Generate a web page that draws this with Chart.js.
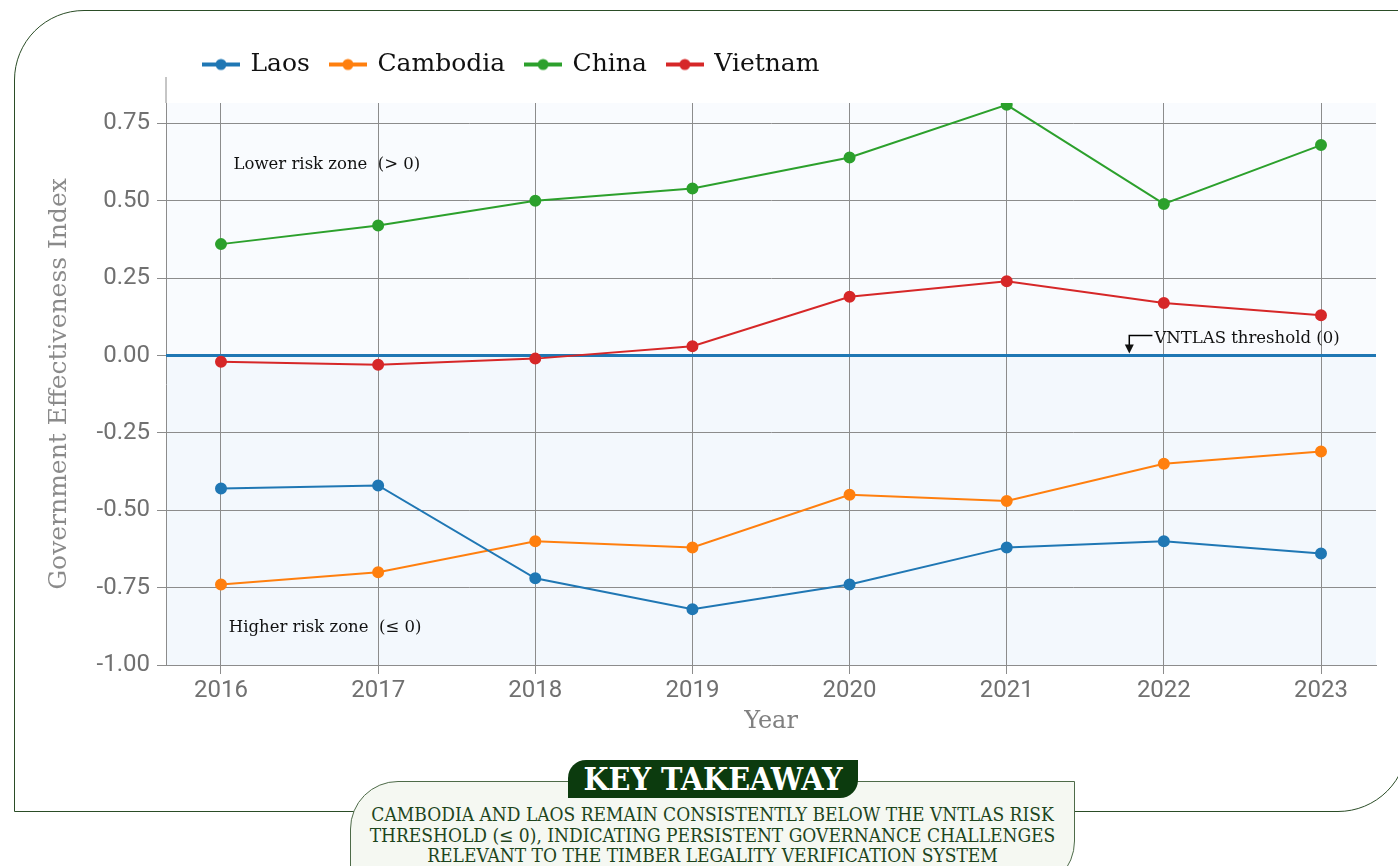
<!DOCTYPE html>
<html>
<head>
<meta charset="utf-8">
<script src="https://cdn.jsdelivr.net/npm/chart.js@4.4.1/dist/chart.umd.min.js"></script>
<style>
  body { margin: 0; width: 1398px; height: 866px; overflow: hidden; background: #fff; position: relative; }
  .card { position: absolute; left: 14px; top: 10px; width: 1394px; height: 802px; box-sizing: border-box;
          border: 1.3px solid #2b4d27; border-radius: 70px 0 70px 0; }
  #wrap { position: absolute; left: 0; top: 0; width: 1398px; height: 760px; }
  .box { position: absolute; left: 350px; top: 781px; width: 725px; height: 110px; box-sizing: border-box;
         background: #f5f8f2; border: 1.3px solid #4e6b49; border-radius: 48px 0 50px 0; }
  .badge { position: absolute; left: 568px; top: 760px; width: 290px; height: 38px; background: #0c3b0e;
           color: #fff; border-radius: 18px 0 18px 0; text-align: center; line-height: 40px;
           font: bold 32px "DejaVu Serif Condensed", "DejaVu Serif", serif; }
  .note { position: absolute; left: 340px; top: 804px; width: 745px; text-align: center;
          font: 19px/20.5px "DejaVu Serif Condensed", "DejaVu Serif", serif; color: #1d451c; }
</style>
</head>
<body>
<div class="card"></div>
<div id="wrap"><canvas id="chart"></canvas></div>
<div class="box"></div>
<div class="badge">KEY TAKEAWAY</div>
<div class="note">CAMBODIA AND LAOS REMAIN CONSISTENTLY BELOW THE VNTLAS RISK<br>THRESHOLD (≤ 0), INDICATING PERSISTENT GOVERNANCE CHALLENGES<br>RELEVANT TO THE TIMBER LEGALITY VERIFICATION SYSTEM</div>
<script>
const years = [2016, 2017, 2018, 2019, 2020, 2021, 2022, 2023];
const laos = [-0.43, -0.42, -0.72, -0.82, -0.74, -0.62, -0.60, -0.64];
const cambodia = [-0.74, -0.70, -0.60, -0.62, -0.45, -0.47, -0.35, -0.31];
const china = [0.36, 0.42, 0.50, 0.54, 0.64, 0.81, 0.49, 0.68];
const vietnam = [-0.02, -0.03, -0.01, 0.03, 0.19, 0.24, 0.17, 0.13];
const yTicks = [-1, -0.75, -0.5, -0.25, 0, 0.25, 0.5, 0.75];

const serif = '"DejaVu Serif", serif';
const gridGray = "#8c8c8c";

// line-with-dot swatch for the legend
function legendIcon(color) {
  const c = document.createElement("canvas");
  c.width = 38;
  c.height = 14;
  const g = c.getContext("2d");
  g.strokeStyle = color;
  g.lineWidth = 4;
  g.beginPath();
  g.moveTo(0, 7);
  g.lineTo(38, 7);
  g.stroke();
  g.fillStyle = color;
  g.beginPath();
  g.arc(19, 7, 5.5, 0, Math.PI * 2);
  g.fill();
  return c;
}

function series(label, values, color) {
  return {
    label: label,
    data: years.map((y, i) => ({ x: y, y: values[i] })),
    borderColor: color,
    backgroundColor: color,
    borderWidth: 2,
    pointRadius: 5,
    pointHoverRadius: 6,
  };
}

const zones = {
  id: "zones",
  beforeDraw(chart) {
    const { ctx, chartArea: a, scales } = chart;
    const y0 = scales.y.getPixelForValue(0);
    ctx.save();
    ctx.fillStyle = "#f9fbfe";
    ctx.fillRect(a.left, a.top, a.right - a.left, y0 - a.top);
    ctx.fillStyle = "#f3f8fd";
    ctx.fillRect(a.left, y0, a.right - a.left, a.bottom - y0);
    ctx.restore();
  },
  afterLayout(chart) {
    chart.legend.left = 183;
  },
  beforeDatasetsDraw(chart) {
    const { ctx, chartArea: a, scales } = chart;
    const y0 = scales.y.getPixelForValue(0);
    ctx.save();
    ctx.strokeStyle = "#1f77b4";
    ctx.lineWidth = 3;
    ctx.beginPath();
    ctx.moveTo(a.left, y0);
    ctx.lineTo(a.right, y0);
    ctx.stroke();
    ctx.restore();
  },
  afterDatasetsDraw(chart) {
    const { ctx, chartArea: a, scales } = chart;
    const x = scales.x, y = scales.y;
    ctx.save();
    ctx.strokeStyle = gridGray;
    ctx.lineWidth = 1;
    ctx.beginPath();
    ctx.moveTo(a.left, 77);
    ctx.lineTo(a.left, a.top);
    ctx.stroke();

    ctx.fillStyle = "#111";
    ctx.font = "16.5px " + serif;
    ctx.textBaseline = "middle";
    ctx.fillText("Lower risk zone  (> 0)", x.getPixelForValue(2016.08), y.getPixelForValue(0.615));
    ctx.fillText("Higher risk zone  (\u2264 0)", x.getPixelForValue(2016.05), y.getPixelForValue(-0.878));

    const tx = x.getPixelForValue(2021.94);
    const ty = y.getPixelForValue(0.055);
    ctx.fillText("VNTLAS threshold (0)", tx, ty);
    const ax = x.getPixelForValue(2021.78);
    ctx.strokeStyle = "#000";
    ctx.lineWidth = 1.5;
    ctx.beginPath();
    ctx.moveTo(tx - 2, ty - 3);
    ctx.lineTo(ax, ty - 3);
    ctx.lineTo(ax, ty + 8);
    ctx.stroke();
    ctx.beginPath();
    ctx.moveTo(ax - 4.5, ty + 6);
    ctx.lineTo(ax + 4.5, ty + 6);
    ctx.lineTo(ax, ty + 15);
    ctx.closePath();
    ctx.fill();
    ctx.restore();
  },
};

const chart = new Chart(document.getElementById("chart"), {
  type: "line",
  data: {
    datasets: [
      series("Laos", laos, "#1f77b4"),
      series("Cambodia", cambodia, "#ff7f0e"),
      series("China", china, "#2ca02c"),
      series("Vietnam", vietnam, "#d62728"),
    ],
  },
  options: {
    responsive: true,
    maintainAspectRatio: false,
    animation: false,
    layout: { padding: { left: 32, right: 22, top: 31, bottom: 20 } },
    plugins: {
      legend: {
        align: "start",
        labels: {
          usePointStyle: true,
          pointStyleWidth: 34,
          padding: 21,
          color: "#111",
          font: { family: serif, size: 25 },
          generateLabels: (c) =>
            Chart.defaults.plugins.legend.labels.generateLabels(c).map((l) => {
              l.pointStyle = legendIcon(c.data.datasets[l.datasetIndex].borderColor);
              return l;
            }),
        },
      },
      tooltip: { enabled: false },
    },
    scales: {
      x: {
        type: "linear",
        min: 2015.65,
        max: 2023.35,
        afterBuildTicks: (s) => { s.ticks = years.map((v) => ({ value: v })); },
        afterFit: (s) => { s.height = 75; },
        ticks: {
          color: "#707070",
          padding: 3,
          font: { family: "Roboto", size: 24 },
          callback: (v) => String(v),
        },
        grid: { color: gridGray, tickColor: gridGray, tickLength: 9 },
        border: { color: gridGray },
        title: {
          display: true,
          text: "Year",
          color: "#808080",
          padding: { top: 4, bottom: 4 },
          font: { family: serif, size: 24 },
        },
      },
      y: {
        min: -1,
        max: 0.816,
        afterBuildTicks: (s) => { s.ticks = yTicks.map((v) => ({ value: v })); },
        afterFit: (s) => { s.width = 134; },
        ticks: {
          color: "#707070",
          padding: 7,
          font: { family: "Roboto", size: 24 },
          callback: (v) => v.toFixed(2),
        },
        grid: { color: gridGray, tickColor: gridGray, tickLength: 9 },
        border: { color: gridGray },
        title: {
          display: true,
          text: "Government Effectiveness Index",
          color: "#8a8a8a",
          padding: { top: 12, bottom: 4 },
          font: { family: serif, size: 25 },
        },
      },
    },
  },
  plugins: [zones],
});

// keep the plot top where the reference has it
const legendFit = chart.legend.fit;
chart.legend.fit = function () {
  legendFit.call(this);
  this.height = 72;
};
chart.update();
</script>
</body>
</html>
